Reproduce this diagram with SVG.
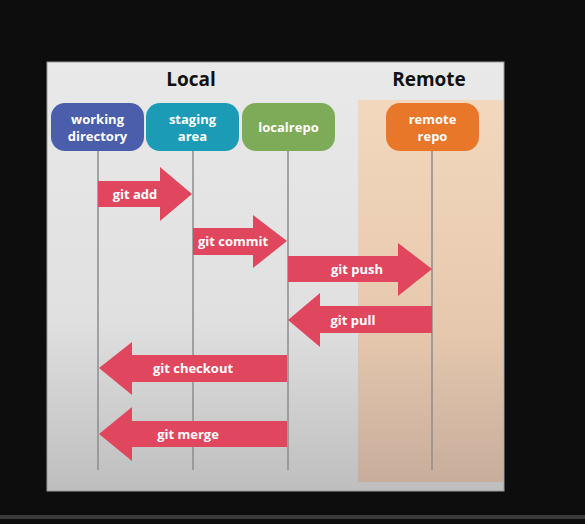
<svg xmlns="http://www.w3.org/2000/svg" width="585" height="524" viewBox="0 0 585 524">
  <defs>
    <linearGradient id="panelG" x1="0" y1="0" x2="0" y2="1">
      <stop offset="0" stop-color="#e9e9e9"/>
      <stop offset="0.6" stop-color="#e0e0e0"/>
      <stop offset="1" stop-color="#bebebe"/>
    </linearGradient>
    <linearGradient id="remoteG" x1="0" y1="0" x2="0" y2="1">
      <stop offset="0" stop-color="#f3d8bd"/>
      <stop offset="0.6" stop-color="#e6c8ae"/>
      <stop offset="1" stop-color="#c8ad9c"/>
    </linearGradient>
    <style>
      .title { font-family: "Open Sans", "DejaVu Sans", sans-serif; font-weight: bold; font-size: 19px; fill: #111; text-anchor: middle; }
      .nlabel { font-family: "Open Sans", "DejaVu Sans", sans-serif; font-weight: bold; font-size: 13px; fill: #ffffff; text-anchor: middle; }
      .alabel { font-family: "Open Sans", "DejaVu Sans", sans-serif; font-weight: bold; font-size: 13px; fill: #ffffff; text-anchor: middle; }
      .arrow { fill: #e0475f; }
      .life { stroke: #8c8c8c; stroke-width: 1.5; fill: none; }
    </style>
  </defs>
  <rect x="0" y="0" width="585" height="524" fill="#0d0d0d"/>
  <rect x="0" y="515" width="585" height="4" fill="#3a3a3a"/>
  <rect x="47" y="62" width="457" height="429" fill="url(#panelG)" stroke="#9a9a9a" stroke-width="1"/>
  <rect x="358" y="100" width="145" height="382" fill="url(#remoteG)"/>

  <text class="title" x="191" y="86">Local</text>
  <text class="title" x="429" y="86">Remote</text>

  <g id="connectors">
    <line class="life" x1="98" y1="150" x2="98" y2="470"/>
    <line class="life" x1="193" y1="150" x2="193" y2="470"/>
    <line class="life" x1="288" y1="150" x2="288" y2="470"/>
    <line class="life" x1="432" y1="150" x2="432" y2="470"/>
    <g id="git-add">
      <polygon class="arrow" points="98,181 160,181 160,167 192,194 160,221 160,207 98,207"/>
      <text class="alabel" x="135" y="199">git add</text>
    </g>
    <g id="git-commit">
      <polygon class="arrow" points="193,228 253,228 253,215 287,241 253,268 253,255 193,255"/>
      <text class="alabel" x="233" y="246">git commit</text>
    </g>
    <g id="git-push">
      <polygon class="arrow" points="288,256 398,256 398,243 432,269 398,296 398,282 288,282"/>
      <text class="alabel" x="357" y="274">git push</text>
    </g>
    <g id="git-pull">
      <polygon class="arrow" points="432,306 320,306 320,293 288,320 320,347 320,333 432,333"/>
      <text class="alabel" x="353" y="325">git pull</text>
    </g>
    <g id="git-checkout">
      <polygon class="arrow" points="287,355 132,355 132,342 99,368 132,395 132,382 287,382"/>
      <text class="alabel" x="193" y="373">git checkout</text>
    </g>
    <g id="git-merge">
      <polygon class="arrow" points="287,421 132,421 132,407 99,434 132,461 132,447 287,447"/>
      <text class="alabel" x="188" y="439">git merge</text>
    </g>
  </g>

  <g id="working-directory">
    <rect x="51" y="103" width="93" height="48" rx="14" fill="#4a5eab"/>
    <text class="nlabel" x="97.5" y="124">working</text>
    <text class="nlabel" x="97.5" y="141">directory</text>
  </g>
  <g id="staging-area">
    <rect x="146" y="103" width="93" height="48" rx="14" fill="#1b9bb6"/>
    <text class="nlabel" x="192.5" y="124">staging</text>
    <text class="nlabel" x="192.5" y="141">area</text>
  </g>
  <g id="localrepo">
    <rect x="242" y="103" width="93" height="48" rx="14" fill="#7dab58"/>
    <text class="nlabel" x="288.5" y="132">localrepo</text>
  </g>
  <g id="remote-repo">
    <rect x="386" y="103" width="93" height="48" rx="14" fill="#e8772a"/>
    <text class="nlabel" x="432.5" y="124">remote</text>
    <text class="nlabel" x="432.5" y="141">repo</text>
  </g>
</svg>
